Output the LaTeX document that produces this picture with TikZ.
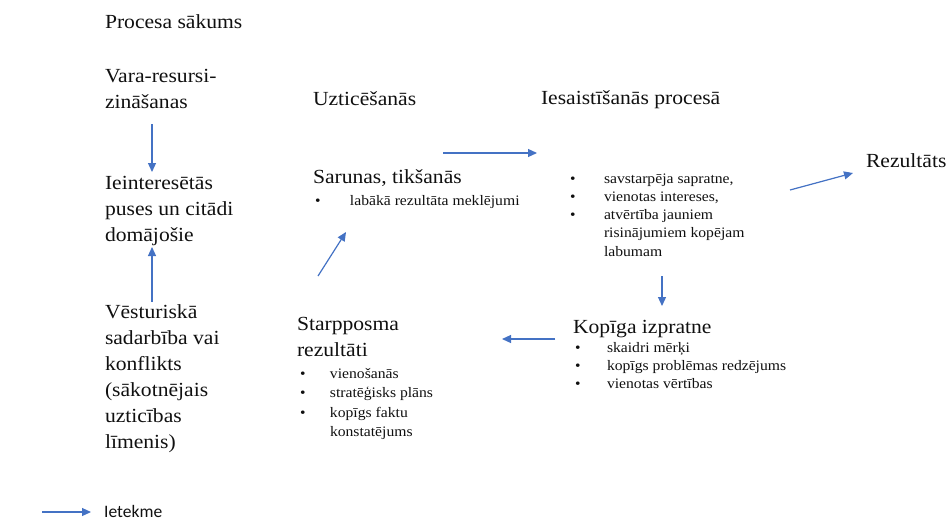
\documentclass[tikz,border=0pt]{standalone}
\usepackage{fontspec}
\setmainfont{Liberation Serif}[FakeStretch=1.08]
\newfontfamily\calibrifont{Carlito}
\usetikzlibrary{arrows.meta}
\definecolor{arrblue}{HTML}{4472C4}
\definecolor{txtgray}{HTML}{101010}
\newcommand{\bigtxt}{\fontsize{20}{26}\selectfont}
\newcommand{\smalltxt}{\fontsize{14.5}{18.3}\selectfont}
\newcommand{\smalltxtwide}{\fontsize{14.5}{19.6}\selectfont}
\begin{document}
\begin{tikzpicture}[x=1pt,y=-1pt,
  big/.style={inner sep=0pt, outer sep=0pt, anchor=base west, font=\bigtxt, text=txtgray},
  small/.style={inner sep=0pt, outer sep=0pt, anchor=base west, font=\smalltxt, text=txtgray},
  flow/.style={draw=arrblue, line width=1.2pt, -{Triangle[length=9pt,width=8pt]}, fill=arrblue}]
\useasboundingbox (0,0) rectangle (949,520);

% left column
\node[big] (start) at (105,28) {Procesa sākums};
\node[big] (power) at (105,82) {\begin{tabular}[t]{@{}l@{}}Vara-resursi-\\zināšanas\end{tabular}};
\node[big] (stake) at (105,189) {\begin{tabular}[t]{@{}l@{}}Ieinteresētās\\puses un citādi\\domājošie\end{tabular}};
\node[big,font=\fontsize{20}{25.9}\selectfont] (hist) at (105,318.5) {\begin{tabular}[t]{@{}l@{}}Vēsturiskā\\sadarbība vai\\konflikts\\(sākotnējais\\uzticības\\līmenis)\end{tabular}};

% headings
\node[big] (trust) at (313,105) {Uzticēšanās};
\node[big] (engage) at (541,104) {Iesaistīšanās procesā};

% negotiations
\node[big] (talks) at (313,183) {Sarunas, tikšanās};
\node[small] (talkslist) at (315,205) {\begin{tabular}[t]{@{}p{35pt}@{}l@{}}•&labākā rezultāta meklējumi\end{tabular}};

% engagement list
\node[small] (englist) at (570,183) {\begin{tabular}[t]{@{}p{34pt}@{}l@{}}•&savstarpēja sapratne,\\•&vienotas intereses,\\•&atvērtība jauniem\\&risinājumiem kopējam\\&labumam\end{tabular}};

% result
\node[big] (result) at (866,167) {Rezultāts};

% common understanding
\node[big] (common) at (573,333) {Kopīga izpratne};
\node[small] (commonlist) at (575,352) {\begin{tabular}[t]{@{}p{32pt}@{}l@{}}•&skaidri mērķi\\•&kopīgs problēmas redzējums\\•&vienotas vērtības\end{tabular}};

% intermediate results
\node[big] (inter) at (297,330) {\begin{tabular}[t]{@{}l@{}}Starpposma\\rezultāti\end{tabular}};
\node[small,font=\smalltxtwide] (interlist) at (300,378) {\begin{tabular}[t]{@{}p{30pt}@{}l@{}}•&vienošanās\\•&stratēģisks plāns\\•&kopīgs faktu\\&konstatējums\end{tabular}};

% legend
\node[inner sep=0pt, anchor=base west, font=\calibrifont\fontsize{17.5}{20}\selectfont, text=txtgray] (legend) at (104,517) {Ietekme};

% arrow end points
\coordinate (a1s) at (152,124); \coordinate (a1e) at (152,172);
\coordinate (a2s) at (152,302); \coordinate (a2e) at (152,247);
\coordinate (a3s) at (318,276); \coordinate (a3e) at (346,232);
\coordinate (a4s) at (443,153); \coordinate (a4e) at (537,153);
\coordinate (a5s) at (790,190); \coordinate (a5e) at (853,173);
\coordinate (a6s) at (662,276); \coordinate (a6e) at (662,306);
\coordinate (a7s) at (555,339); \coordinate (a7e) at (502,339);
\coordinate (l1s) at (42,512); \coordinate (l1e) at (91,512);

\draw[flow] (a1s) -- (a1e);
\draw[flow] (a2s) -- (a2e);
\draw[flow] (a3s) -- (a3e);
\draw[flow] (a4s) -- (a4e);
\draw[flow] (a5s) -- (a5e);
\draw[flow] (a6s) -- (a6e);
\draw[flow] (a7s) -- (a7e);
\draw[flow] (l1s) -- (l1e);
\end{tikzpicture}
\end{document}
